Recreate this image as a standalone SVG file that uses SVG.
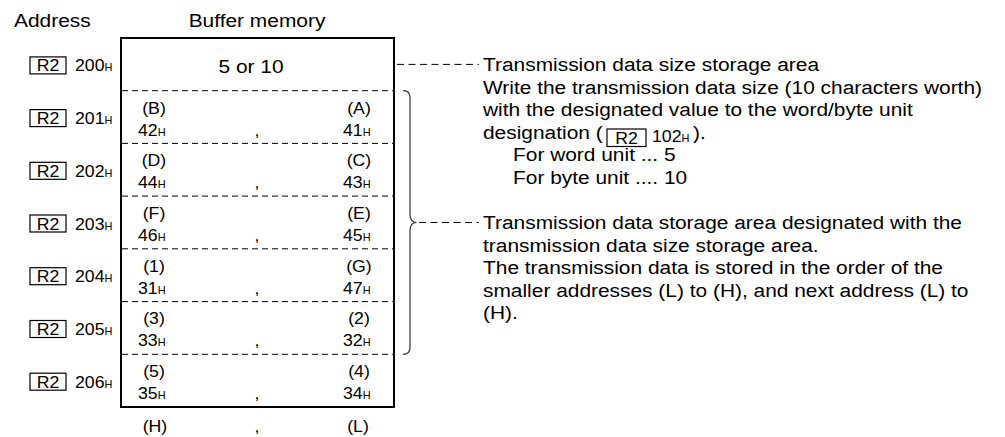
<svg xmlns="http://www.w3.org/2000/svg" width="1005" height="437" viewBox="0 0 1005 437">
<style>
text{font-family:"Liberation Sans",Arial,sans-serif;fill:#000}
.m{font-size:19px}
.c{font-size:17px}
.s{font-size:10.5px}
.mid{text-anchor:middle}
.row{stroke:#000;stroke-width:1;stroke-dasharray:6 4;fill:none}
.lead{stroke:#000;stroke-width:1;stroke-dasharray:7 4.5;fill:none}
.reg{fill:none;stroke:#000;stroke-width:1.2}
</style>
<rect width="1005" height="437" fill="#fff"/>

<g id="headers">
<text class="m" transform="matrix(1.1 0 0 1 14 27)">Address</text>
<text class="m mid" transform="matrix(1.1 0 0 1 257 27)">Buffer memory</text>
</g>

<g id="buffer">
<rect x="121" y="38" width="273" height="369" fill="none" stroke="#000" stroke-width="2"/>
<line class="row" x1="122" y1="90.7" x2="393" y2="90.7"/>
<line class="row" x1="122" y1="143.4" x2="393" y2="143.4"/>
<line class="row" x1="122" y1="196.1" x2="393" y2="196.1"/>
<line class="row" x1="122" y1="248.8" x2="393" y2="248.8"/>
<line class="row" x1="122" y1="301.6" x2="393" y2="301.6"/>
<line class="row" x1="122" y1="354.3" x2="393" y2="354.3"/>
<text class="m mid" transform="matrix(1.1 0 0 1 251 73)">5 or 10</text>
</g>

<g id="row201">
<text class="c mid" transform="matrix(1.04 0 0 1 154 113.5)">(B)</text>
<text class="c mid" transform="matrix(1.04 0 0 1 359 113.5)">(A)</text>
<text class="c" transform="matrix(1.04 0 0 1 138 135.5)">42<tspan class="s">H</tspan></text>
<text class="c mid" transform="matrix(1.04 0 0 1 257 135.5)">,</text>
<text class="c" transform="matrix(1.04 0 0 1 343 135.5)">41<tspan class="s">H</tspan></text>
</g>
<g id="row202">
<text class="c mid" transform="matrix(1.04 0 0 1 154 166.2)">(D)</text>
<text class="c mid" transform="matrix(1.04 0 0 1 359 166.2)">(C)</text>
<text class="c" transform="matrix(1.04 0 0 1 138 188.2)">44<tspan class="s">H</tspan></text>
<text class="c mid" transform="matrix(1.04 0 0 1 257 188.2)">,</text>
<text class="c" transform="matrix(1.04 0 0 1 343 188.2)">43<tspan class="s">H</tspan></text>
</g>
<g id="row203">
<text class="c mid" transform="matrix(1.04 0 0 1 154 218.9)">(F)</text>
<text class="c mid" transform="matrix(1.04 0 0 1 359 218.9)">(E)</text>
<text class="c" transform="matrix(1.04 0 0 1 138 240.9)">46<tspan class="s">H</tspan></text>
<text class="c mid" transform="matrix(1.04 0 0 1 257 240.9)">,</text>
<text class="c" transform="matrix(1.04 0 0 1 343 240.9)">45<tspan class="s">H</tspan></text>
</g>
<g id="row204">
<text class="c mid" transform="matrix(1.04 0 0 1 154 271.6)">(1)</text>
<text class="c mid" transform="matrix(1.04 0 0 1 359 271.6)">(G)</text>
<text class="c" transform="matrix(1.04 0 0 1 138 293.6)">31<tspan class="s">H</tspan></text>
<text class="c mid" transform="matrix(1.04 0 0 1 257 293.6)">,</text>
<text class="c" transform="matrix(1.04 0 0 1 343 293.6)">47<tspan class="s">H</tspan></text>
</g>
<g id="row205">
<text class="c mid" transform="matrix(1.04 0 0 1 154 324.4)">(3)</text>
<text class="c mid" transform="matrix(1.04 0 0 1 359 324.4)">(2)</text>
<text class="c" transform="matrix(1.04 0 0 1 138 346.4)">33<tspan class="s">H</tspan></text>
<text class="c mid" transform="matrix(1.04 0 0 1 257 346.4)">,</text>
<text class="c" transform="matrix(1.04 0 0 1 343 346.4)">32<tspan class="s">H</tspan></text>
</g>
<g id="row206">
<text class="c mid" transform="matrix(1.04 0 0 1 154 377.1)">(5)</text>
<text class="c mid" transform="matrix(1.04 0 0 1 359 377.1)">(4)</text>
<text class="c" transform="matrix(1.04 0 0 1 138 399.1)">35<tspan class="s">H</tspan></text>
<text class="c mid" transform="matrix(1.04 0 0 1 257 399.1)">,</text>
<text class="c" transform="matrix(1.04 0 0 1 343 399.1)">34<tspan class="s">H</tspan></text>
</g>
<g id="byteorder">
<text class="c mid" transform="matrix(1.04 0 0 1 155 432)">(H)</text>
<text class="c mid" transform="matrix(1.04 0 0 1 257 432)">,</text>
<text class="c mid" transform="matrix(1.04 0 0 1 358 432)">(L)</text>
</g>

<g id="addresses">
<rect class="reg" x="30" y="56.9" width="36" height="17"/>
<text class="c mid" transform="matrix(1.04 0 0 1 48 71.4)">R2</text>
<text class="c" transform="matrix(1.04 0 0 1 75 71.4)">200<tspan class="s">H</tspan></text>
<rect class="reg" x="30" y="109.6" width="36" height="17"/>
<text class="c mid" transform="matrix(1.04 0 0 1 48 124.1)">R2</text>
<text class="c" transform="matrix(1.04 0 0 1 75 124.1)">201<tspan class="s">H</tspan></text>
<rect class="reg" x="30" y="162.3" width="36" height="17"/>
<text class="c mid" transform="matrix(1.04 0 0 1 48 176.8)">R2</text>
<text class="c" transform="matrix(1.04 0 0 1 75 176.8)">202<tspan class="s">H</tspan></text>
<rect class="reg" x="30" y="215" width="36" height="17"/>
<text class="c mid" transform="matrix(1.04 0 0 1 48 229.5)">R2</text>
<text class="c" transform="matrix(1.04 0 0 1 75 229.5)">203<tspan class="s">H</tspan></text>
<rect class="reg" x="30" y="267.7" width="36" height="17"/>
<text class="c mid" transform="matrix(1.04 0 0 1 48 282.2)">R2</text>
<text class="c" transform="matrix(1.04 0 0 1 75 282.2)">204<tspan class="s">H</tspan></text>
<rect class="reg" x="30" y="320.5" width="36" height="17"/>
<text class="c mid" transform="matrix(1.04 0 0 1 48 335)">R2</text>
<text class="c" transform="matrix(1.04 0 0 1 75 335)">205<tspan class="s">H</tspan></text>
<rect class="reg" x="30" y="373.2" width="36" height="17"/>
<text class="c mid" transform="matrix(1.04 0 0 1 48 387.7)">R2</text>
<text class="c" transform="matrix(1.04 0 0 1 75 387.7)">206<tspan class="s">H</tspan></text>
</g>

<g id="connectors">
<line class="lead" x1="397" y1="64.4" x2="479" y2="64.4"/>
<path d="M403,90.7 Q410,90.7 410,97.5 L410,214 Q410,222.5 416.5,222.5 Q410,222.5 410,231 L410,347.5 Q410,354.3 403,354.3" fill="none" stroke="#333" stroke-width="1.2"/>
<line class="lead" x1="419" y1="222.5" x2="479" y2="222.5"/>
</g>

<g id="note-size">
<text class="m" transform="matrix(1.1 0 0 1 483 71)">Transmission data size storage area</text>
<text class="m" transform="matrix(1.1 0 0 1 483 93.6)">Write the transmission data size (10 characters worth)</text>
<text class="m" transform="matrix(1.1 0 0 1 483 116.2)">with the designated value to the word/byte unit</text>
<text class="m" transform="matrix(1.1 0 0 1 483 138.8)">designation (</text>
<rect class="reg" x="607" y="129" width="39" height="17.5"/>
<text class="c mid" transform="matrix(1.04 0 0 1 626.5 143.5)">R2</text>
<text class="c" transform="matrix(1.04 0 0 1 652 141.5)">102<tspan class="s">H</tspan></text>
<text class="m" transform="matrix(1.1 0 0 1 693 138.8)">).</text>
<text class="m" transform="matrix(1.1 0 0 1 513 161.4)">For word unit ... 5</text>
<text class="m" transform="matrix(1.1 0 0 1 513 184)">For byte unit .... 10</text>
</g>

<g id="note-data">
<text class="m" transform="matrix(1.1 0 0 1 483 229)">Transmission data storage area designated with the</text>
<text class="m" transform="matrix(1.1 0 0 1 483 251.6)">transmission data size storage area.</text>
<text class="m" transform="matrix(1.1 0 0 1 483 274.2)">The transmission data is stored in the order of the</text>
<text class="m" transform="matrix(1.1 0 0 1 483 296.8)">smaller addresses (L) to (H), and next address (L) to</text>
<text class="m" transform="matrix(1.1 0 0 1 483 319.4)">(H).</text>
</g>
</svg>
